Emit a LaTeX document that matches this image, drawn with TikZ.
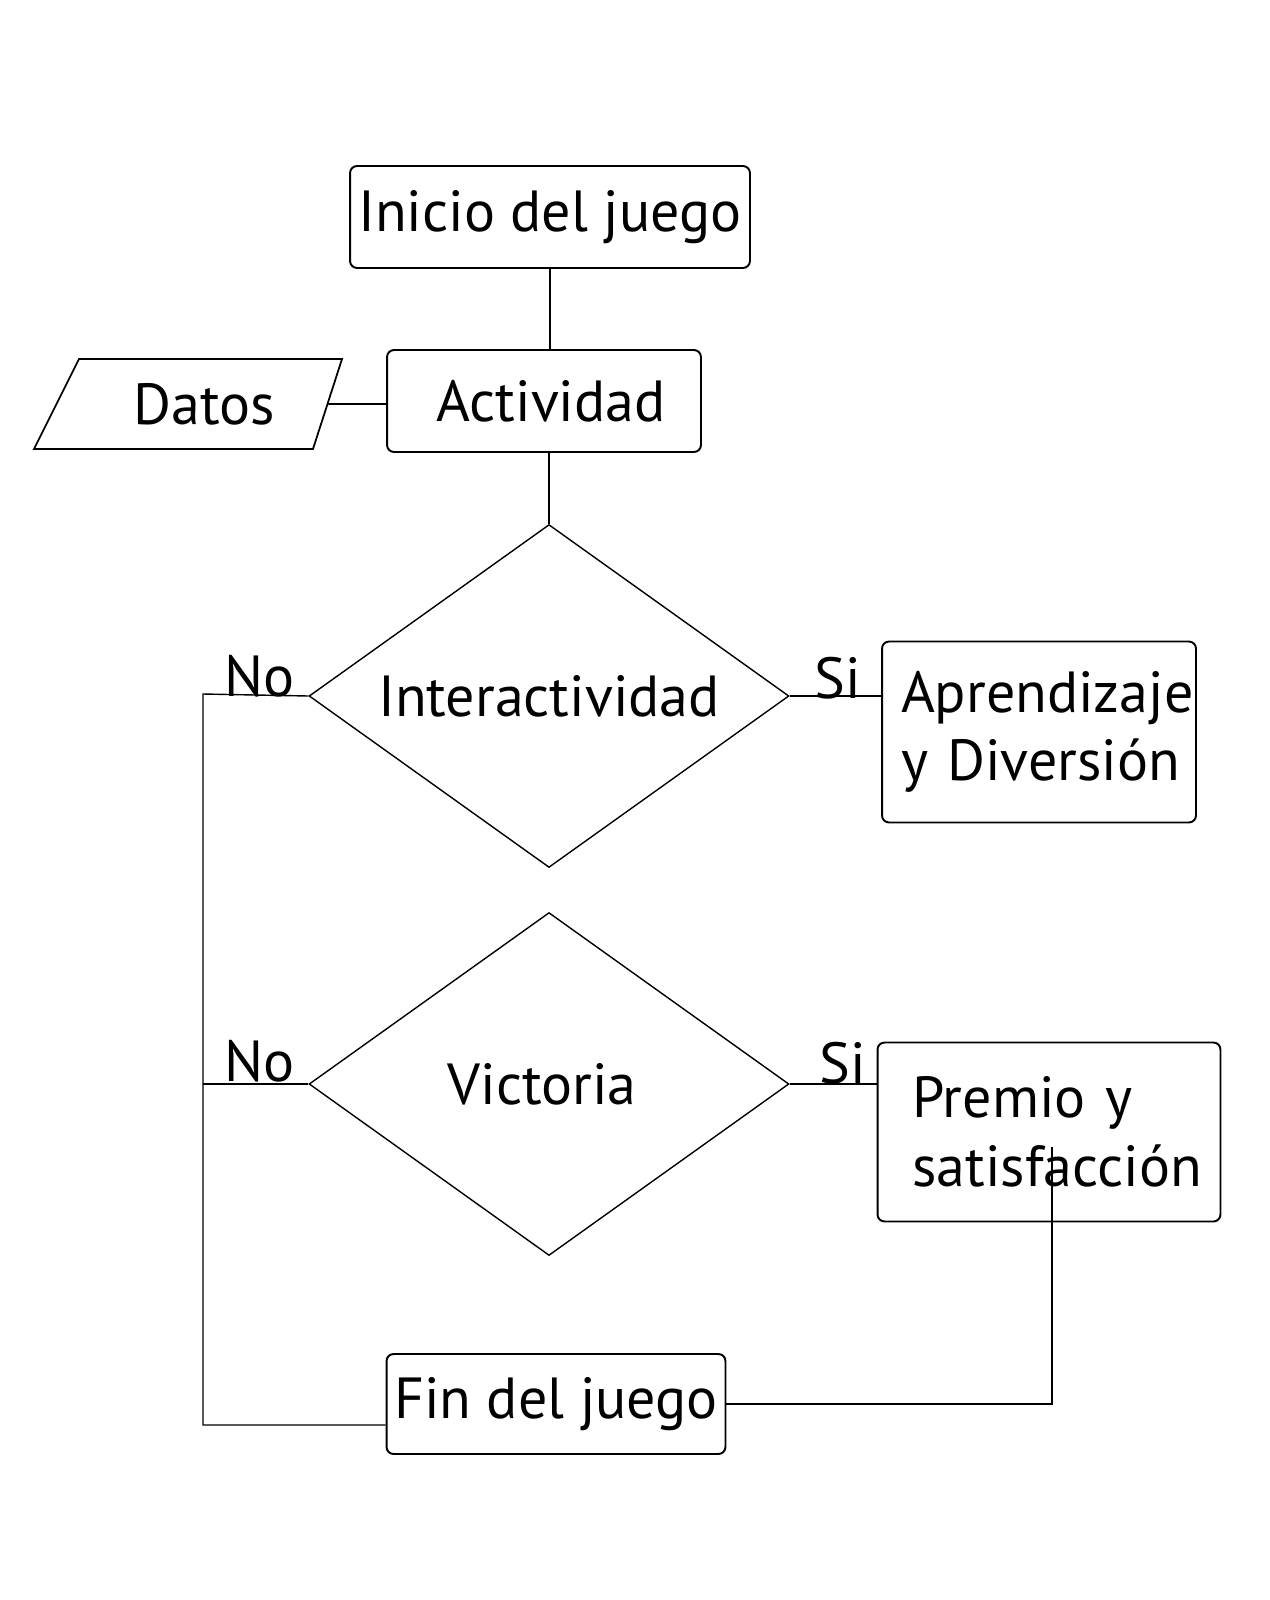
\documentclass[tikz,border=0pt]{standalone}
\usepackage{fontspec}
\setmainfont{PT Sans}
\usetikzlibrary{shapes.geometric}
\hyphenpenalty=10000
\begin{document}
\begin{tikzpicture}[x=0.02cm, y=-0.02cm,
  font=\fontsize{33}{39}\selectfont,
  caja/.style={draw, rounded corners=4pt, line width=1.1pt, inner sep=0pt},
  rombo/.style={diamond, draw, line width=0.8pt, inner sep=0pt, shape aspect=1.4, minimum width=9.6cm, minimum height=6.86cm},
  enlace/.style={line width=0.8pt},
  etiq/.style={inner sep=0pt, anchor=base west}]
\useasboundingbox (0,0) rectangle (1269,1600);
% cajas del flujo principal
\node[caja, minimum width=8cm, minimum height=2.04cm] (inicio) at (550,217) {Inicio del juego};
\node[caja, minimum width=6.28cm, minimum height=2.04cm] (act) at (544,401) {\hspace*{8pt}Actividad};
\node[rombo] (inter) at (549,696) {Interactividad};
\node[rombo] (vict) at (549,1084) {Victoria\hspace*{8pt}};
\node[caja, minimum width=6.78cm, minimum height=2cm] (fin) at (556,1404) {Fin del juego};
% cajas de la derecha
\node[caja, minimum width=6.28cm, minimum height=3.62cm, align=left, text width=5.52cm] (apren) at (1039,732) {\mbox{Aprendizaje}\\\mbox{y Diversión}};
\node[caja, minimum width=6.86cm, minimum height=3.58cm, align=left, text width=5.46cm] (premio) at (1049,1132) {\mbox{Premio y}\\\mbox{satisfacción}};
% datos de entrada
\draw[line width=1pt] (34,449) -- (79,359) -- (342,359) -- (313,449) -- cycle;
\node (datos) at (204,404) {Datos};
\coordinate (datosDer) at (328,404);
% esquinas de las lineas
\coordinate (izqArr) at (203,694);
\coordinate (izqAbj) at (203,1425);
\coordinate (premBaja) at (1052,1147);
% conexiones
\draw[enlace] (inicio.south) -- (inicio.south |- act.north);
\draw[enlace] (datosDer) -- (datosDer -| act.west);
\draw[enlace] (inter.north |- act.south) -- (inter.north);
\draw[enlace] (inter.east) -- (inter.east -| apren.west);
\draw[enlace] (vict.east) -- (vict.east -| premio.west);
\draw[enlace] (inter.west) -- (izqArr) -- (izqAbj) -- (izqAbj -| fin.west);
\draw[enlace] (vict.west) -- (vict.west -| izqArr);
\draw[enlace] (premBaja) |- (fin.east);
% etiquetas
\node[etiq] (no1) at (224,696) {No};
\node[etiq] (si1) at (814,698) {Si};
\node[etiq] (no2) at (224,1081) {No};
\node[etiq] (si2) at (819,1083) {Si};
\end{tikzpicture}
\end{document}
